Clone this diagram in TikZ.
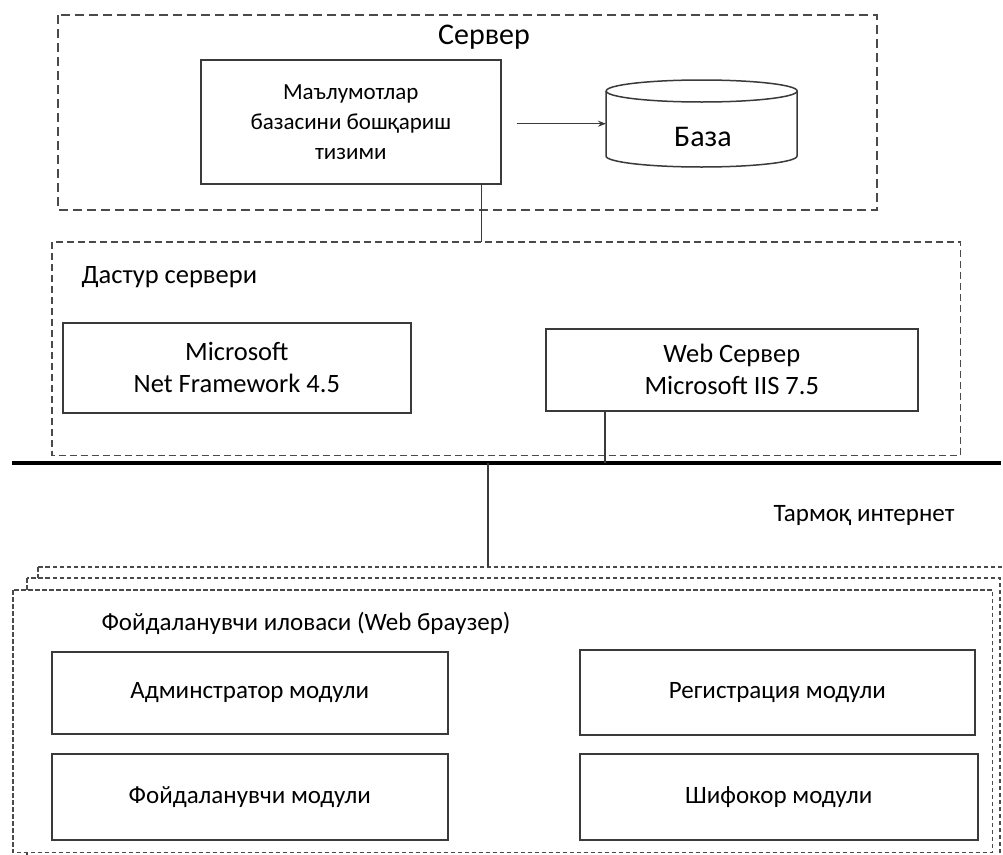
\documentclass[tikz,border=0pt]{standalone}
\usepackage{fontspec}
\setmainfont{Carlito}
\usetikzlibrary{arrows.meta}
\definecolor{edge}{HTML}{3A3A3A}
\definecolor{dash}{HTML}{4A4A4A}
\begin{document}
\begin{tikzpicture}[x=1pt,y=-1pt,
  solidbox/.style={draw=edge, line width=1.6pt, fill=white, inner sep=0pt,
    anchor=north west, align=center},
  zone/.style={draw=dash, line width=1.7pt, dash pattern=on 9pt off 5pt},
  appzone/.style={draw=dash, line width=1.8pt, dash pattern=on 7pt off 4pt},
  layer/.style={draw=dash, line width=1.6pt, dash pattern=on 4.5pt off 2.5pt, fill=white},
  wire/.style={draw=edge, line width=1.3pt},
  bigtxt/.style={font=\fontsize{30}{34}\selectfont},
  dbmstxt/.style={font=\fontsize{23}{30}\selectfont},
  midtxt/.style={font=\fontsize{26.5}{32}\selectfont},
  lowtxt/.style={font=\fontsize{25}{30}\selectfont},
]
\clip (0,0) rectangle (1003,854);
\fill[white] (0,0) rectangle (1003,854);

% ---------- database server ----------
\draw[zone] (58,15) rectangle (877,210);
\node[bigtxt] (srv) at (484,37) {Сервер};
\node[solidbox, minimum width=300pt, minimum height=124pt, dbmstxt] (dbms) at (200,59)
  {Маълумотлар\\базасини бошқариш\\тизими};

% database cylinder
\node[inner sep=0pt, minimum width=191pt, minimum height=87pt, anchor=north west] (db) at (606,80) {};
\draw[edge, line width=1.5pt, fill=white]
  (db.north west) ++(0,11) -- ++(0,65)
  arc[start angle=180, end angle=0, x radius=95.5, y radius=11]
  -- ++(0,-65);
\draw[edge, line width=1.5pt] ([yshift=-11pt]db.north) ellipse [x radius=95.5, y radius=11];
\node[bigtxt] (dblabel) at (703,137) {База};
\draw[wire, -{Stealth[length=8pt,width=6pt]}] ([xshift=15pt]db.west -| dbms.east) -- (db.west);

% ---------- application server ----------
\node[inner sep=0pt, minimum width=908pt, minimum height=213pt, anchor=north west] (app) at (52,242) {};
\draw[appzone] (app.north west) rectangle (app.south east);
\node[midtxt, anchor=west] (apptitle) at (78,277) {Дастур сервери};
\node[solidbox, minimum width=348pt, minimum height=90pt, midtxt] (net) at (62,322)
  {Microsoft\\Net Framework 4.5};
\node[solidbox, minimum width=372pt, minimum height=82pt, midtxt] (web) at (545,328)
  {Web Сервер\\Microsoft IIS 7.5};
\draw[wire] ([xshift=-20pt]dbms.south east) -- ([xshift=-20pt]dbms.south east |- app.north);

% ---------- network ----------
\coordinate (netL) at (12,463);
\coordinate (netR) at (1001,463);
\draw[black, line width=4pt] (netL) -- (netR);
\draw[wire] ([xshift=60pt]web.south west) -- ([xshift=60pt]web.south west |- netL);
\node[lowtxt] (inet) at (864,516) {Тармоқ интернет};

% ---------- client (browser), stacked copies ----------
\draw[layer] (38,567) rectangle (1012,880);
\draw[layer] (27,578) rectangle (1000,880);
\node[inner sep=0pt, minimum width=979pt, minimum height=262pt, anchor=north west] (client) at (13,590) {};
\draw[layer] (client.north west) rectangle (client.south east);
\coordinate (drop) at (488,567);
\draw[wire] (drop |- netL) -- (drop);

\node[lowtxt, anchor=west] (clienttitle) at (98,623) {Фойдаланувчи иловаси (Web браузер)};
\node[solidbox, minimum width=396pt, minimum height=82pt, lowtxt] (admin) at (51,651) {Админстратор модули};
\node[solidbox, minimum width=395pt, minimum height=85pt, lowtxt] (reg) at (579,649) {Регистрация модули};
\node[solidbox, minimum width=396pt, minimum height=86pt, lowtxt] (user) at (51,753) {Фойдаланувчи модули};
\node[solidbox, minimum width=398pt, minimum height=86pt, lowtxt] (doc) at (579,753) {Шифокор модули};
\end{tikzpicture}
\end{document}
